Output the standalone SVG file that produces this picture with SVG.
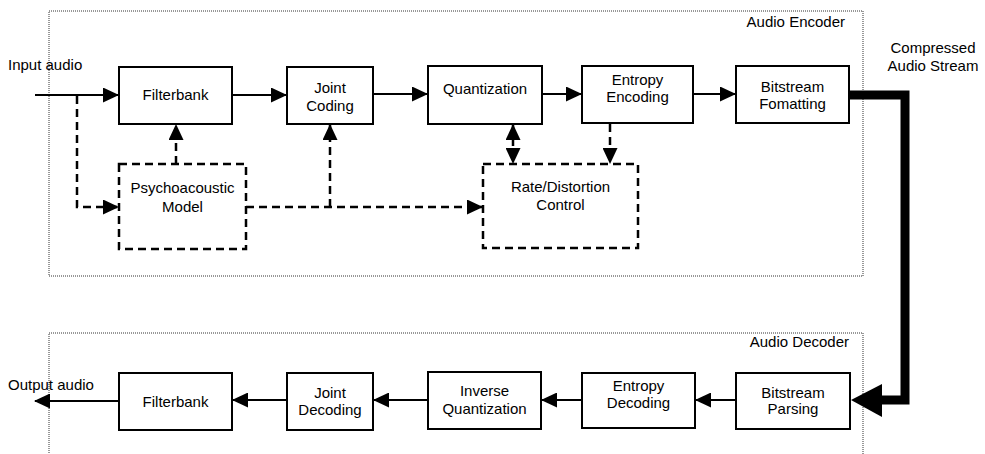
<svg xmlns="http://www.w3.org/2000/svg" width="985" height="454" viewBox="0 0 985 454">
<style>
  text { font-family: "Liberation Sans", Arial, sans-serif; font-size: 15px; fill: #000; }
  .c { text-anchor: middle; }
  .r { text-anchor: end; }
  .box { fill: #fff; stroke: #000; stroke-width: 2; }
  .dbox { fill: #fff; stroke: #000; stroke-width: 2.5; stroke-dasharray: 8 5; }
  .group { fill: none; stroke: #333; stroke-width: 1; stroke-dasharray: 1 1; }
  .ln { fill: none; stroke: #000; stroke-width: 2; }
  .dl { fill: none; stroke: #000; stroke-width: 2.5; stroke-dasharray: 8 5; }
  .thick { fill: none; stroke: #000; stroke-width: 9; stroke-linejoin: miter; }
</style>
<defs>
  <marker id="ah" viewBox="0 0 16 15" refX="15" refY="7.5" markerWidth="16" markerHeight="15" markerUnits="userSpaceOnUse" orient="auto-start-reverse">
    <path d="M0,0 L16,7.5 L0,15 z" fill="#000"/>
  </marker>
</defs>

<g id="groups">
  <rect class="group" x="49" y="11" width="814" height="265"/>
  <rect class="group" x="49" y="333" width="814" height="140"/>
  <text class="r" x="845" y="27">Audio Encoder</text>
  <text class="r" x="849" y="347">Audio Decoder</text>
</g>

<g id="labels">
  <text x="8" y="70">Input audio</text>
  <text x="8" y="390">Output audio</text>
  <text class="c" x="933" y="53">Compressed</text>
  <text class="c" x="933" y="71">Audio Stream</text>
</g>

<g id="connectors">
  <line class="ln" x1="35" y1="95" x2="118" y2="95" marker-end="url(#ah)"/>
  <line class="ln" x1="232" y1="95" x2="286" y2="95" marker-end="url(#ah)"/>
  <line class="ln" x1="373" y1="94" x2="427" y2="94" marker-end="url(#ah)"/>
  <line class="ln" x1="542" y1="94" x2="581" y2="94" marker-end="url(#ah)"/>
  <line class="ln" x1="693" y1="94" x2="735" y2="94" marker-end="url(#ah)"/>
  <polyline class="dl" points="77,96 77,207 118,207" marker-end="url(#ah)"/>
  <line class="dl" x1="176" y1="164" x2="176" y2="125" marker-end="url(#ah)"/>
  <line class="dl" x1="246" y1="207" x2="482" y2="207" marker-end="url(#ah)"/>
  <line class="dl" x1="330" y1="207" x2="330" y2="125" marker-end="url(#ah)"/>
  <line class="dl" x1="513" y1="125" x2="513" y2="163" marker-start="url(#ah)" marker-end="url(#ah)"/>
  <line class="dl" x1="610" y1="124" x2="610" y2="163" marker-end="url(#ah)"/>
  <polyline class="thick" points="849,95 905,95 905,400 880,400"/>
  <polygon points="851,400 882,384 882,417" fill="#000"/>
  <line class="ln" x1="736" y1="400" x2="696" y2="400" marker-end="url(#ah)"/>
  <line class="ln" x1="582" y1="400" x2="542" y2="400" marker-end="url(#ah)"/>
  <line class="ln" x1="428" y1="400" x2="374" y2="400" marker-end="url(#ah)"/>
  <line class="ln" x1="287" y1="400" x2="233" y2="400" marker-end="url(#ah)"/>
  <line class="ln" x1="119" y1="401" x2="35" y2="401" marker-end="url(#ah)"/>
</g>

<g id="enc-filterbank">
  <rect class="box" x="119" y="67" width="113" height="57"/>
  <text class="c" x="175.5" y="100">Filterbank</text>
</g>
<g id="enc-joint-coding">
  <rect class="box" x="287" y="67" width="86" height="57"/>
  <text class="c" x="330" y="93">Joint</text>
  <text class="c" x="330" y="111">Coding</text>
</g>
<g id="enc-quantization">
  <rect class="box" x="428" y="66" width="114" height="58"/>
  <text class="c" x="485" y="94">Quantization</text>
</g>
<g id="enc-entropy">
  <rect class="box" x="582" y="66" width="111" height="57"/>
  <text class="c" x="637.5" y="85">Entropy</text>
  <text class="c" x="637.5" y="102">Encoding</text>
</g>
<g id="enc-bitstream">
  <rect class="box" x="736" y="66" width="113" height="57"/>
  <text class="c" x="792.5" y="92">Bitstream</text>
  <text class="c" x="792.5" y="109">Fomatting</text>
</g>
<g id="psychoacoustic">
  <rect class="dbox" x="119" y="164" width="127" height="85"/>
  <text class="c" x="182.5" y="193">Psychoacoustic</text>
  <text class="c" x="182.5" y="212">Model</text>
</g>
<g id="rate-distortion">
  <rect class="dbox" x="483" y="164" width="155" height="84"/>
  <text class="c" x="560.5" y="192">Rate/Distortion</text>
  <text class="c" x="560.5" y="210">Control</text>
</g>

<g id="dec-filterbank">
  <rect class="box" x="119" y="373" width="113" height="57"/>
  <text class="c" x="175.5" y="407">Filterbank</text>
</g>
<g id="dec-joint-decoding">
  <rect class="box" x="287" y="373" width="86" height="57"/>
  <text class="c" x="330" y="398">Joint</text>
  <text class="c" x="330" y="415">Decoding</text>
</g>
<g id="dec-inverse-quant">
  <rect class="box" x="428" y="372" width="113" height="57"/>
  <text class="c" x="484.5" y="396">Inverse</text>
  <text class="c" x="484.5" y="414">Quantization</text>
</g>
<g id="dec-entropy">
  <rect class="box" x="582" y="373" width="113" height="55"/>
  <text class="c" x="638.5" y="391">Entropy</text>
  <text class="c" x="638.5" y="408">Decoding</text>
</g>
<g id="dec-bitstream">
  <rect class="box" x="736" y="373" width="114" height="56"/>
  <text class="c" x="793" y="398">Bitstream</text>
  <text class="c" x="793" y="414">Parsing</text>
</g>
</svg>
